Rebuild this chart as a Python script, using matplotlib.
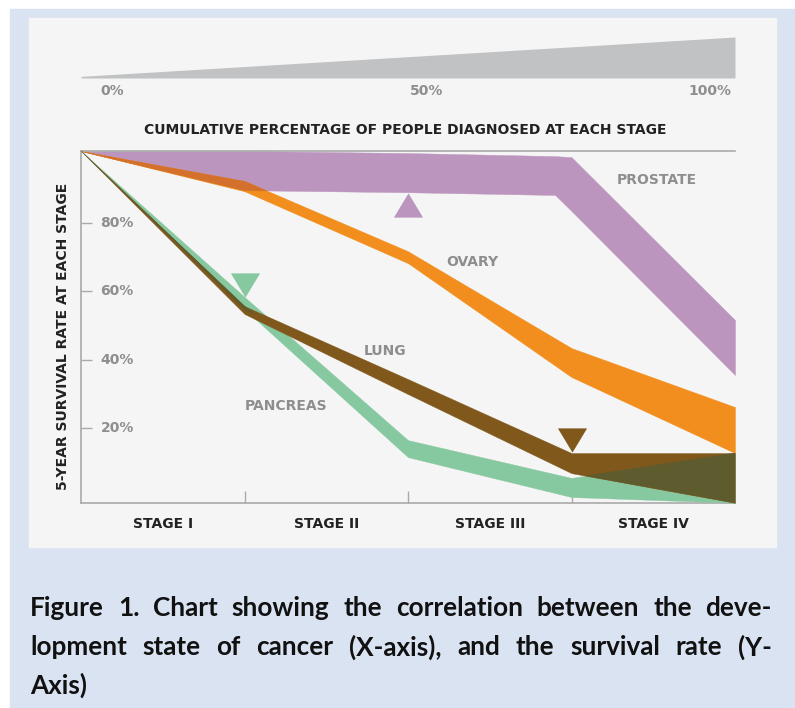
import numpy as np
import matplotlib.pyplot as plt
from matplotlib.patches import Rectangle

# stage boundaries on the cumulative % axis
STAGE_X = [0, 25, 50, 75, 100]
STAGE_MID = [12.5, 37.5, 62.5, 87.5]
STAGE_LABELS = ['STAGE I', 'STAGE II', 'STAGE III', 'STAGE IV']

# survival bands (upper / lower edge, %)
PROSTATE_X = [0, 25, 50, 72.5, 75, 100]
PROSTATE_HI = [101.2, 101.2, 100.6, 99.7, 99.4, 51.6]
PROSTATE_LO = [101.2, 89.7, 89.1, 88.3, 83.6, 35.5]
OVARY_HI = [101.2, 92.4, 71.8, 43.4, 26.1]
OVARY_LO = [101.2, 89.4, 68.3, 34.9, 12.6]
LUNG_HI = [101.2, 55.7, 34.3, 12.6, 12.6]
LUNG_LO = [101.2, 53.4, 29.9, 6.7, -2.0]
PANCREAS_HI = [101.2, 58.4, 16.4, 5.3, 12.6]
PANCREAS_LO = [101.2, 54.8, 11.4, -0.3, -2.0]

# triangle markers
MARKER_X = [50, 25, 75]
MARKER_Y = [85.3, 61.9, 16.4]
MARKER_DIR = ['up', 'down', 'down']

# band name labels
NAMES = ['PROSTATE', 'OVARY', 'LUNG', 'PANCREAS']
NAME_X = [88.0, 59.9, 46.5, 31.3]
NAME_Y = [92.7, 68.6, 42.5, 26.4]

Y_TICKS = [20, 40, 60, 80]

# top wedge 0% -> 100%
WEDGE_X = [0, 100]
WEDGE_TOP = [0.04, 1.0]
PCT_LABELS = ['0%', '50%', '100%']
PCT_X = [3.0, 50.3, 99.5]

CAPTION = [
    "Figure 1. Chart showing the correlation between the deve-",
    "lopment state of cancer (X-axis), and the survival rate (Y-",
    "Axis)",
]

PURPLE = '#bb95bd'
ORANGE = '#f18e1e'
BURNT = '#d2702c'
BROWN = '#80581b'
GREEN = '#86c8a0'
OLIVE = '#5e5b2e'
GRAY_TXT = '#8e8e90'
DARK = '#222222'
SPINE = '#aaaaaa'

W, H = 795, 708
fig = plt.figure(figsize=(W / 100, H / 100), dpi=100)
fig.patch.set_facecolor('white')
fig.add_artist(Rectangle((10 / W, 0), 1 - 10 / W, 1 - 9 / H, transform=fig.transFigure,
                         color='#dae3f2', zorder=-3))
fig.add_artist(Rectangle((29 / W, 1 - 547 / H), 747 / W, 529 / H, transform=fig.transFigure,
                         color='#f5f5f5', zorder=-2))

ax = fig.add_axes([81 / W, 1 - 503 / H, 654 / W, 352 / H])
ax.patch.set_visible(False)
ax.set_xlim(0, 100)
ax.set_ylim(-2.05, 101.2)


def band(x, hi, lo, color, z):
    ax.fill_between(x, lo, hi, color=color, lw=0.3, ec=color, zorder=z)


def overlap(x, hi1, lo1, hi2, lo2, color, z):
    upper = np.minimum(hi1, hi2)
    lower = np.maximum(lo1, lo2)
    ax.fill_between(x, lower, upper, where=upper >= lower, interpolate=True,
                    color=color, lw=0.3, ec=color, zorder=z)


band(PROSTATE_X, PROSTATE_HI, PROSTATE_LO, PURPLE, 1)
band(STAGE_X, OVARY_HI, OVARY_LO, ORANGE, 2)
overlap(STAGE_X[:3], np.array(PROSTATE_HI[:3]), np.array(PROSTATE_LO[:3]),
        np.array(OVARY_HI[:3]), np.array(OVARY_LO[:3]), BURNT, 3)
band(STAGE_X, PANCREAS_HI, PANCREAS_LO, GREEN, 4)
band(STAGE_X, LUNG_HI, LUNG_LO, BROWN, 5)
overlap(STAGE_X, np.array(LUNG_HI), np.array(LUNG_LO),
        np.array(PANCREAS_HI), np.array(PANCREAS_LO), OLIVE, 6)

up = [(-1, -0.83), (1, -0.83), (0, 0.83)]
down = [(-1, 0.83), (1, 0.83), (0, -0.83)]
for mx, my, d, c in zip(MARKER_X, MARKER_Y, MARKER_DIR, [PURPLE, GREEN, BROWN]):
    ax.plot([mx], [my], marker=up if d == 'up' else down, markersize=21,
            color=c, mec='none', zorder=7, clip_on=False)

for name, nx, ny in zip(NAMES, NAME_X, NAME_Y):
    ax.text(nx, ny, name, ha='center', va='center', fontsize=10, fontweight='bold',
            color=GRAY_TXT, zorder=8)

# axes styling
for s in ['left', 'bottom', 'top']:
    ax.spines[s].set_color(SPINE)
    ax.spines[s].set_linewidth(1.2)
ax.spines['right'].set_visible(False)

ax.set_yticks(Y_TICKS)
ax.tick_params(axis='y', direction='in', length=8, width=1, color=SPINE, labelleft=False)
for v in Y_TICKS:
    ax.text(3.0, v, f'{v}%', ha='left', va='center', fontsize=10, fontweight='bold',
            color=GRAY_TXT)

ax.set_xticks(STAGE_X[1:-1])
ax.set_xticklabels([])
ax.tick_params(axis='x', which='major', direction='in', length=8.5, width=1, color=SPINE)
ax.set_xticks(STAGE_MID, minor=True)
ax.set_xticklabels(STAGE_LABELS, minor=True, fontsize=10, fontweight='bold', color=DARK)
ax.tick_params(axis='x', which='minor', length=0, pad=10)

ax.text(0.496, 1.06, 'CUMULATIVE PERCENTAGE OF PEOPLE DIAGNOSED AT EACH STAGE',
        transform=ax.transAxes, ha='center', va='center', fontsize=10,
        fontweight='bold', color=DARK)
ax.text(-0.0275, 0.474, '5-YEAR SURVIVAL RATE AT EACH STAGE', transform=ax.transAxes,
        rotation=90, ha='center', va='center', fontsize=10, fontweight='bold', color=DARK)

# wedge on top
wx = fig.add_axes([81 / W, 1 - 78 / H, 654 / W, 41 / H])
wx.axis('off')
wx.set_xlim(0, 100)
wx.set_ylim(0, 1)
wx.fill_between(WEDGE_X, 0, WEDGE_TOP, color='#c1c2c4', lw=0)
for lab, px in zip(PCT_LABELS, PCT_X):
    wx.text(px, -0.317, lab, ha='right' if lab == '100%' else 'left', va='center',
            fontsize=10, fontweight='bold', color=GRAY_TXT, clip_on=False)


# caption, justified by hand
def justify_line(words, y, x0, x1, **kw):
    renderer = fig.canvas.get_renderer()
    texts = [fig.text(0, y, w, **kw) for w in words]
    widths = [t.get_window_extent(renderer).width for t in texts]
    gap = ((x1 - x0) - sum(widths)) / (len(words) - 1)
    x = x0
    for t, w in zip(texts, widths):
        t.set_x(x / W)
        x += w + gap


cap_kw = dict(fontsize=18.8, fontweight='bold', family='Lato', color='#111111', va='center')
cap_y = [608, 647, 685]
for i, line in enumerate(CAPTION):
    if i < len(CAPTION) - 1:
        justify_line(line.split(' '), 1 - cap_y[i] / H, 30, 772, **cap_kw)
    else:
        fig.text(30 / W, 1 - cap_y[i] / H, line, **cap_kw)

fig.savefig('out.png', dpi=100)
